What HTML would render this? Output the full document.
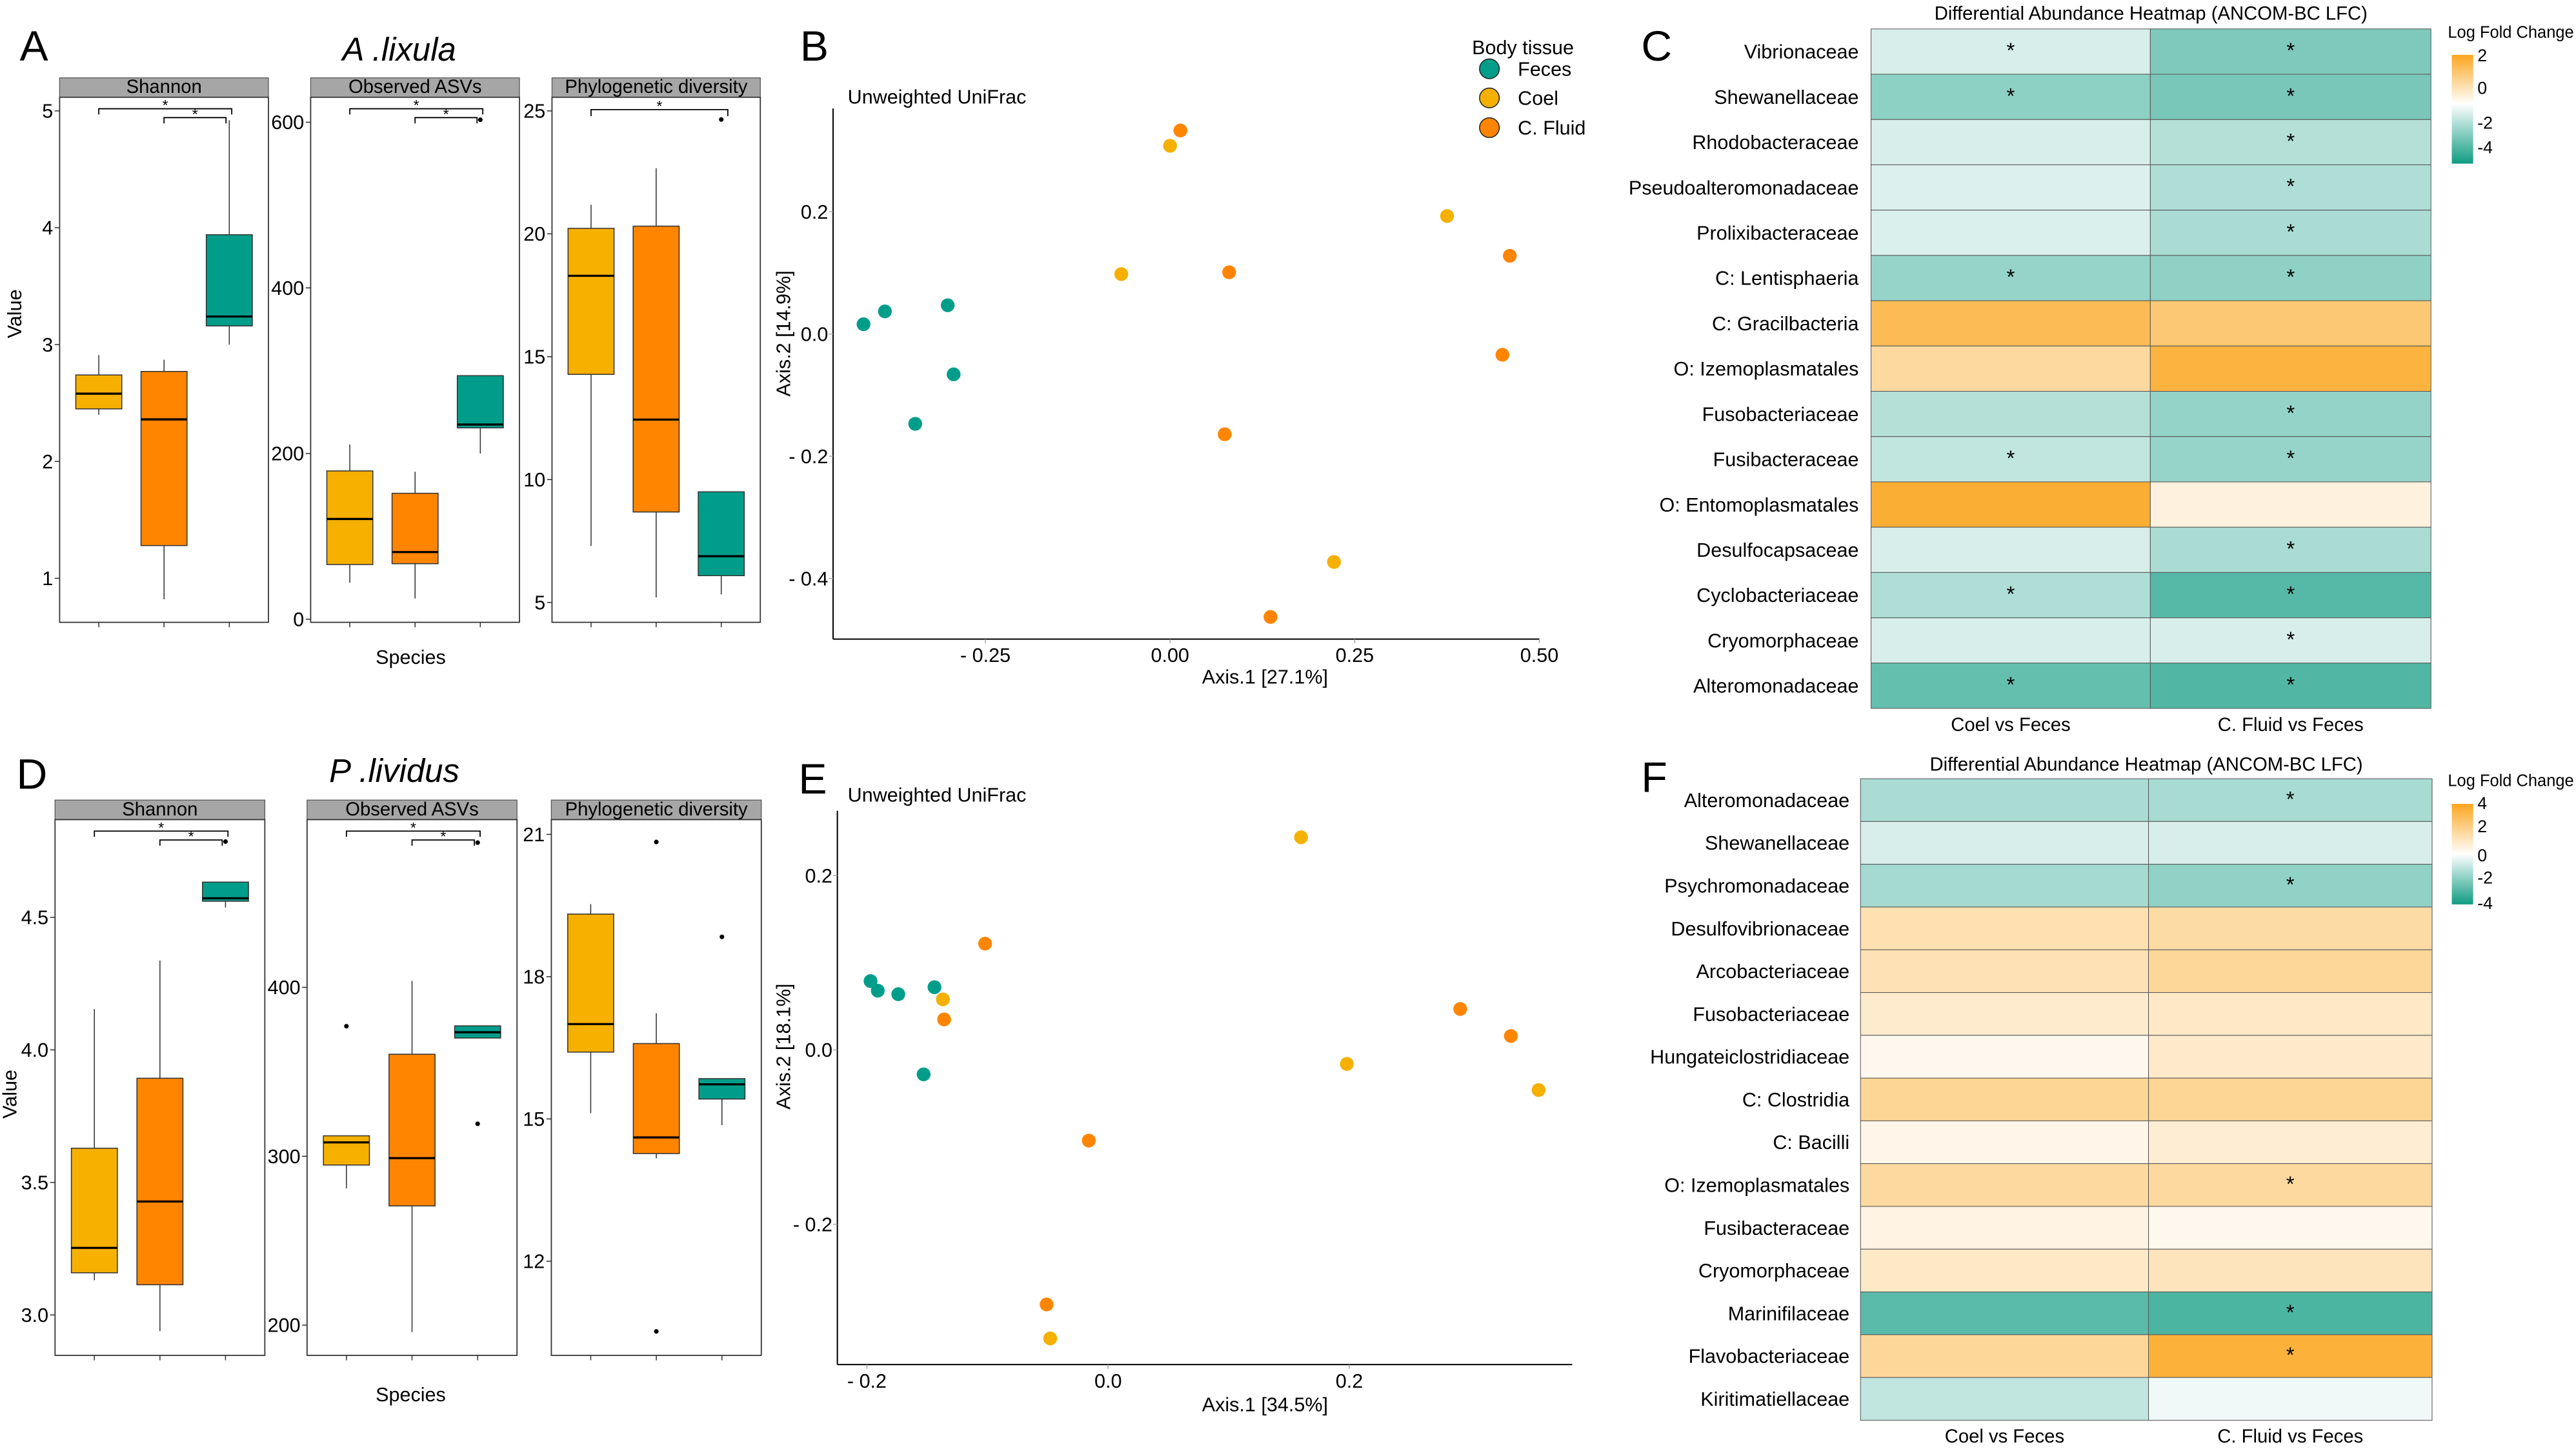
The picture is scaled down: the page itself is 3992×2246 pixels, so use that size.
<!DOCTYPE html>
<html><head><meta charset="utf-8">
<style>
html,body{margin:0;padding:0;background:#fff;}
svg{display:block;}
text{font-family:"Liberation Sans",sans-serif;}
</style></head>
<body>
<svg id="fig" xmlns="http://www.w3.org/2000/svg" width="3992" height="2246" viewBox="0 0 1568 882" preserveAspectRatio="none">
<rect x="0" y="0" width="1568" height="882" fill="#fff"/>
<g id="root"></g>
</svg>
<script>
// ---------- DATA ----------
const groupNames = ['Coel','C. Fluid','Feces'];
const groupColors = ['#F5B000','#FF8500','#009E8A'];
// box stats: [lowerWhisker, q1, median, q3, upperWhisker] per group (Coel, C. Fluid, Feces)
const aShannonStats = [[2.40,2.45,2.58,2.74,2.91],[0.82,1.28,2.36,2.77,2.87],[3.00,3.16,3.24,3.94,4.92]];
const aShannonOut = [[],[],[]];
const aAsvStats = [[44,66,121,179,211],[25,67,81,152,178],[200,231,235,294,294]];
const aAsvOut = [[],[],[603]];
const aPdStats = [[7.3,14.28,18.29,20.22,21.18],[5.2,8.68,12.44,20.31,22.67],[5.33,6.09,6.88,9.5,9.5]];
const aPdOut = [[],[],[24.65]];
const dShannonStats = [[3.131,3.159,3.253,3.629,4.154],[2.939,3.114,3.428,3.893,4.337],[4.537,4.561,4.572,4.633,4.633]];
const dShannonOut = [[],[],[4.786]];
const dAsvStats = [[281,294.8,308.2,312.1,312.1],[195.9,270.6,298.9,360.4,403.8],[370,370,373.4,377.2,377.2]];
const dAsvOut = [[377],[],[319.2,485.7]];
const dPdStats = [[15.12,16.41,17.0,19.32,19.53],[14.17,14.27,14.61,16.59,17.23],[14.87,15.42,15.73,15.85,15.85]];
const dPdOut = [[],[20.84,10.52],[18.84]];
const aShannonTicks = [1,2,3,4,5];
const aAsvTicks = [0,200,400,600];
const aPdTicks = [5,10,15,20,25];
const dShannonTicks = [3.0,3.5,4.0,4.5];
const dAsvTicks = [200,300,400];
const dPdTicks = [12,15,18,21];

// PCoA B
const bFecesX = [-0.415,-0.386,-0.301,-0.293,-0.345];
const bFecesY = [0.016,0.037,0.047,-0.066,-0.147];
const bCoelX = [0.000,-0.066,0.375,0.222];
const bCoelY = [0.308,0.098,0.193,-0.373];
const bFluidX = [0.014,0.080,0.460,0.450,0.074,0.136];
const bFluidY = [0.333,0.101,0.128,-0.034,-0.164,-0.463];
const bXTicks = [-0.25,0.00,0.25,0.50];
const bXTickLabels = ['- 0.25','0.00','0.25','0.50'];
const bYTicks = [0.2,0.0,-0.2,-0.4];
const bYTickLabels = ['0.2','0.0','- 0.2','- 0.4'];
// PCoA E
const eFecesX = [-0.197,-0.191,-0.174,-0.144,-0.153];
const eFecesY = [0.079,0.068,0.064,0.072,-0.028];
const eCoelX = [-0.137,0.160,0.198,0.357,-0.048];
const eCoelY = [0.058,0.244,-0.016,-0.046,-0.331];
const eFluidX = [-0.102,-0.136,-0.016,-0.051,0.292,0.334];
const eFluidY = [0.122,0.035,-0.104,-0.292,0.047,0.016];
const eXTicks = [-0.2,0.0,0.2];
const eXTickLabels = ['- 0.2','0.0','0.2'];
const eYTicks = [0.2,0.0,-0.2];
const eYTickLabels = ['0.2','0.0','- 0.2'];

// Heatmap C
const cTaxa = ['Vibrionaceae','Shewanellaceae','Rhodobacteraceae','Pseudoalteromonadaceae','Prolixibacteraceae','C: Lentisphaeria','C: Gracilbacteria','O: Izemoplasmatales','Fusobacteriaceae','Fusibacteraceae','O: Entomoplasmatales','Desulfocapsaceae','Cyclobacteriaceae','Cryomorphaceae','Alteromonadaceae'];
const cCoel = [-0.8,-2.3,-0.8,-0.7,-0.75,-2.1,1.6,0.9,-1.5,-1.25,1.9,-0.8,-1.6,-0.8,-3.1];
const cFluid = [-2.6,-2.7,-1.5,-1.6,-1.7,-2.25,1.3,1.8,-2.15,-2.1,0.3,-1.7,-3.4,-0.8,-3.5];
const cCoelSig = [1,1,0,0,0,1,0,0,0,1,0,0,1,0,1];
const cFluidSig = [1,1,1,1,1,1,0,0,1,1,0,1,1,1,1];
const cLegendTicks = ['2','0','-2','-4'];
// Heatmap F
const fTaxa = ['Alteromonadaceae','Shewanellaceae','Psychromonadaceae','Desulfovibrionaceae','Arcobacteriaceae','Fusobacteriaceae','Hungateiclostridiaceae','C: Clostridia','C: Bacilli','O: Izemoplasmatales','Fusibacteraceae','Cryomorphaceae','Marinifilaceae','Flavobacteriaceae','Kiritimatiellaceae'];
const fCoel = [-1.7,-0.8,-1.8,1.4,1.3,0.9,0.3,1.9,0.4,1.7,0.5,1.0,-3.3,1.8,-1.25];
const fFluid = [-1.75,-0.8,-2.2,1.6,1.8,1.0,0.95,1.9,0.8,1.7,0.3,1.2,-3.6,3.5,-0.3];
const fCoelSig = [0,0,0,0,0,0,0,0,0,0,0,0,0,0,0];
const fFluidSig = [1,0,1,0,0,0,0,0,0,1,0,0,1,1,0];
const fLegendTicks = ['4','2','0','-2','-4'];
const heatCols = ['Coel vs Feces','C. Fluid vs Feces'];

// ---------- HELPERS ----------
const NS='http://www.w3.org/2000/svg';
const root=document.getElementById('root');
function mk(tag,attrs,parent,txt){
  const e=document.createElementNS(NS,tag);
  for(const k in attrs) e.setAttribute(k,attrs[k]);
  if(txt!==undefined) e.textContent=txt;
  (parent||root).appendChild(e);
  return e;
}
function txt(x,y,s,size,anchor,parent,extra){
  const a={x:x,y:y,'font-size':size,'text-anchor':anchor||'start',fill:'#000'};
  if(extra) for(const k in extra) a[k]=extra[k];
  return mk('text',a,parent,s);
}

// ---------- BOX PANELS ----------
function boxPanelCore(cfg){
  const g=mk('g',{});
  
  
  const {x0,x1,top,bottom,stripTop}=cfg;
  const ys=v=>cfg.py0+(v-cfg.v0)*(cfg.py1-cfg.py0)/(cfg.v1-cfg.v0);
  const xs=i=>x0+(x1-x0)*(0.6+i)/3.2;
  const strip=mk('rect',{x:x0,y:stripTop,width:x1-x0,height:top-stripTop,fill:'#a6a6a6',stroke:'#555','stroke-width':0.5},g);
  
  
  const st=txt((x0+x1)/2,top-2.6,cfg.title,11.5,'middle',g);
  
  
  mk('rect',{x:x0,y:top,width:x1-x0,height:bottom-top,fill:'#fff',stroke:'#333','stroke-width':0.7},g);
  cfg.ticks.forEach(t=>{
    const y=ys(t);
    mk('line',{x1:x0-3,x2:x0,y1:y,y2:y,stroke:'#333','stroke-width':0.6},g);
    const lbl=txt(x0-4,y+4.2,cfg.tickFmt?cfg.tickFmt(t):String(t),12,'end',g);
    
    
  });
  const bw=28;
  cfg.stats.forEach((s,i)=>{
    const cx=xs(i);
    mk('line',{x1:cx,x2:cx,y1:bottom,y2:bottom+3,stroke:'#333','stroke-width':0.6},g);
    mk('line',{x1:cx,x2:cx,y1:ys(s[0]),y2:ys(s[1]),stroke:'#333','stroke-width':0.6},g);
    mk('line',{x1:cx,x2:cx,y1:ys(s[3]),y2:ys(s[4]),stroke:'#333','stroke-width':0.6},g);
    const b=mk('rect',{x:cx-bw/2,y:ys(s[3]),width:bw,height:ys(s[1])-ys(s[3]),fill:groupColors[i],stroke:'#333','stroke-width':0.6},g);
    
    
    mk('line',{x1:cx-bw/2,x2:cx+bw/2,y1:ys(s[2]),y2:ys(s[2]),stroke:'#000','stroke-width':1.3},g);
    cfg.out[i].forEach(o=>{
      const p=mk('circle',{cx:cx,cy:ys(o),r:1.4,fill:'#000'},g);
      
      
    });
  });
  return {g,xs};
}
function bracket(g,xa,xb,y,len){
  mk('path',{d:`M${xa},${y+len}V${y}H${xb}V${y+len}`,fill:'none',stroke:'#000','stroke-width':0.7},g);
  const s=txt((xa+xb)/2,y+1,'*',9,'middle',g);
  
  
}
function boxPanel(cfg){
  const {g,xs}=boxPanelCore(cfg);
  bracket(g,xs(0),xs(2)+1.5,cfg.top+7,3.5);
  bracket(g,xs(1),xs(2)-2,cfg.top+12.4,3.5);
}
function boxPanelNoBr(cfg){
  const {g,xs}=boxPanelCore(cfg);
  if(cfg.bracket) bracket(g,xs(0),xs(2)+4,cfg.top+7.5,4);
}
const f1=v=>v.toFixed(1);
// Row A
boxPanel({name:'a-shannon-panel',title:'Shannon',x0:36.3,x1:163.4,stripTop:47.4,top:59.2,bottom:378.8,v0:1,py0:352,v1:5,py1:67.5,ticks:aShannonTicks,stats:aShannonStats,out:aShannonOut});
boxPanel({name:'a-observed-asvs-panel',title:'Observed ASVs',x0:189.1,x1:316.2,stripTop:47.4,top:59.2,bottom:378.8,v0:0,py0:376.9,v1:600,py1:74.4,ticks:aAsvTicks,stats:aAsvStats,out:aAsvOut});
boxPanelNoBr({name:'a-phylogenetic-diversity-panel',title:'Phylogenetic diversity',x0:336,x1:462.8,stripTop:47.4,top:59.2,bottom:378.8,v0:5,py0:366.7,v1:25,py1:67.5,ticks:aPdTicks,stats:aPdStats,out:aPdOut,bracket:true});
// Row D
boxPanel({name:'d-shannon-panel',title:'Shannon',x0:33.5,x1:161.2,stripTop:487,top:498.9,bottom:825,v0:3.0,py0:800.4,v1:4.5,py1:558.4,ticks:dShannonTicks,stats:dShannonStats,out:dShannonOut,tickFmt:f1});
boxPanel({name:'d-observed-asvs-panel',title:'Observed ASVs',x0:186.9,x1:314.7,stripTop:487,top:498.9,bottom:825,v0:200,py0:806.6,v1:400,py1:601,ticks:dAsvTicks,stats:dAsvStats,out:dAsvOut});
boxPanelNoBr({name:'d-phylogenetic-diversity-panel',title:'Phylogenetic diversity',x0:335.6,x1:463.4,stripTop:487,top:498.9,bottom:825,v0:12,py0:767.7,v1:21,py1:507.9,ticks:dPdTicks,stats:dPdStats,out:dPdOut,bracket:false});

function label(x,y,s,size,name,extra,anchor){
  const t=txt(x,y,s,size,anchor||'start',root,extra);
  
  
  return t;
}
label(12,37,'A',26,'panel-label-a');
label(243,37,'A .lixula',20,'species-title-a',{'font-style':'italic'},'middle');
label(13,191,'Value',12,'y-axis-title-a',{transform:'rotate(-90 13 191)'},'middle');
label(250,404,'Species',12,'x-axis-title-a',{},'middle');
label(10,480,'D',26,'panel-label-d');
label(240,476,'P .lividus',20,'species-title-d',{'font-style':'italic'},'middle');
label(10,666,'Value',12,'y-axis-title-d',{transform:'rotate(-90 10 666)'},'middle');
label(250,853,'Species',12,'x-axis-title-d',{},'middle');

// ---------- PCoA ----------
function pcoa(cfg){
  const g=mk('g',{});
  
  
  const xs=v=>cfg.xp0+(v-cfg.xv0)*(cfg.xp1-cfg.xp0)/(cfg.xv1-cfg.xv0);
  const ys=v=>cfg.yp0+(v-cfg.yv0)*(cfg.yp1-cfg.yp0)/(cfg.yv1-cfg.yv0);
  mk('line',{x1:cfg.ax,x2:cfg.ax,y1:cfg.atop,y2:cfg.abot,stroke:'#000','stroke-width':0.8},g);
  mk('line',{x1:cfg.ax,x2:cfg.aright,y1:cfg.abot,y2:cfg.abot,stroke:'#000','stroke-width':0.8},g);
  cfg.xt.forEach((t,i)=>{
    const x=xs(t);
    mk('line',{x1:x,x2:x,y1:cfg.abot,y2:cfg.abot+2.5,stroke:'#999','stroke-width':0.5},g);
    const l=txt(x,cfg.abot+14,cfg.xtl[i],12,'middle',g);
    
    
  });
  cfg.yt.forEach((t,i)=>{
    const y=ys(t);
    mk('line',{x1:cfg.ax-2.5,x2:cfg.ax,y1:y,y2:y,stroke:'#999','stroke-width':0.5},g);
    const l=txt(cfg.ax-3,y+4.2,cfg.ytl[i],12,'end',g);
    
    
  });
  const series=[[cfg.fx,cfg.fy,2,'feces'],[cfg.cx,cfg.cy,0,'coel'],[cfg.ux,cfg.uy,1,'c-fluid']];
  series.forEach(s=>{
    s[0].forEach((v,i)=>{
      const c=mk('circle',{cx:xs(v),cy:ys(s[1][i]),r:4.2,fill:groupColors[s[2]]},g);
      
      
    });
  });
}
pcoa({name:'b-pcoa-scatter',xp0:712.2,xv0:0,xp1:824.6,xv1:0.25,yp0:203.3,yv0:0,yp1:128.9,yv1:0.2,ax:507.1,atop:66,abot:389,aright:937,
  xt:bXTicks,xtl:bXTickLabels,yt:bYTicks,ytl:bYTickLabels,fx:bFecesX,fy:bFecesY,cx:bCoelX,cy:bCoelY,ux:bFluidX,uy:bFluidY});
pcoa({name:'e-pcoa-scatter',xp0:674.5,xv0:0,xp1:821.3,xv1:0.2,yp0:639.1,yv0:0,yp1:533,yv1:0.2,ax:509.7,atop:493.5,abot:830.6,aright:957,
  xt:eXTicks,xtl:eXTickLabels,yt:eYTicks,ytl:eYTickLabels,fx:eFecesX,fy:eFecesY,cx:eCoelX,cy:eCoelY,ux:eFluidX,uy:eFluidY});
label(487,37,'B',26,'panel-label-b');
label(516,63,'Unweighted UniFrac',12,'b-plot-subtitle');
label(770,416,'Axis.1 [27.1%]',12,'b-x-axis-title',{},'middle');
label(481,203,'Axis.2 [14.9%]',12,'b-y-axis-title',{transform:'rotate(-90 481 203)'},'middle');
label(486,483,'E',26,'panel-label-e');
label(516,488,'Unweighted UniFrac',12,'e-plot-subtitle');
label(770,859,'Axis.1 [34.5%]',12,'e-x-axis-title',{},'middle');
label(481,637,'Axis.2 [18.1%]',12,'e-y-axis-title',{transform:'rotate(-90 481 637)'},'middle');
// legend
const lg=mk('g',{});


const lt=txt(896,33,'Body tissue',12,'start',lg);


[[2,'Feces',41.9],[0,'Coel',59.6],[1,'C. Fluid',77.7]].forEach(e=>{
  const c=mk('circle',{cx:906.6,cy:e[2],r:6,fill:groupColors[e[0]],stroke:'#222','stroke-width':0.6},lg);
  
  
  const t=txt(923.9,e[2]+4.2,e[1],12,'start',lg);
  
  
});

// ---------- HEATMAPS ----------
function mix(a,b,t){
  const pa=[parseInt(a.substr(1,2),16),parseInt(a.substr(3,2),16),parseInt(a.substr(5,2),16)];
  const pb=[parseInt(b.substr(1,2),16),parseInt(b.substr(3,2),16),parseInt(b.substr(5,2),16)];
  return 'rgb('+pa.map((v,i)=>Math.round(v+(pb[i]-v)*t)).join(',')+')';
}
function heat(cfg){
  const g=mk('g',{});
  
  
  const n=cfg.taxa.length, rh=(cfg.y1-cfg.y0)/n;
  const colX=[cfg.x0,cfg.xm,cfg.x1];
  const col=v=>v<0?mix('#ffffff','#1aa088',Math.min(1,-v/cfg.lo)):mix('#ffffff','#fba61f',Math.min(1,v/cfg.hi));
  const tl=txt((cfg.x0+cfg.x1)/2,cfg.titleY,'Differential Abundance Heatmap (ANCOM-BC LFC)',11.5,'middle',g);
  
  
  [cfg.coel,cfg.fluid].forEach((vals,ci)=>{
    const sig=ci===0?cfg.coelSig:cfg.fluidSig;
    vals.forEach((v,r)=>{
      const y=cfg.y0+r*rh;
      const c=mk('rect',{x:colX[ci],y:y,width:colX[ci+1]-colX[ci],height:rh,fill:col(v),stroke:'#555','stroke-width':0.4},g);
      
      
      if(sig[r]){
        const s=txt((colX[ci]+colX[ci+1])/2,y+rh/2+3.8,'*',13,'middle',g);
        
        
      }
    });
  });
  cfg.taxa.forEach((t,r)=>{
    const l=txt(cfg.labelX,cfg.y0+r*rh+rh/2+4.2,t,12,'end',g);
    
    
  });
  heatCols.forEach((c,i)=>{
    const l=txt((colX[i]+colX[i+1])/2,cfg.colLabelY,c,11.5,'middle',g);
    
    
  });
  const lt=txt(1490,cfg.legTitleY,'Log Fold Change',10,'start',g);
  
  
  const gid='grad'+cfg.name;
  const defs=mk('defs',{},g);
  const lgd=mk('linearGradient',{id:gid,x1:0,y1:0,x2:0,y2:1},defs);
  mk('stop',{offset:'0','stop-color':'#fba61f'},lgd);
  mk('stop',{offset:cfg.whiteAt,'stop-color':'#ffffff'},lgd);
  mk('stop',{offset:'1','stop-color':'#0f9c82'},lgd);
  const bar=mk('rect',{x:1492.4,y:cfg.barTop,width:13,height:cfg.barBot-cfg.barTop,fill:'url(#'+gid+')'},g);
  
  
  cfg.legTicks.forEach((t,i)=>{
    const l=txt(1508,cfg.legTickY[i]+4,t,10.5,'start',g);
    
    
  });
}
heat({name:'c-heatmap',taxa:cTaxa,coel:cCoel,fluid:cFluid,coelSig:cCoelSig,fluidSig:cFluidSig,x0:1138.9,xm:1308.9,x1:1479.7,y0:17.6,y1:431.2,
  lo:4.6,hi:2.1,labelX:1131.4,titleY:12,colLabelY:445,legTitleY:23,barTop:33.4,barBot:99.6,whiteAt:'0.45',legTicks:cLegendTicks,legTickY:[33.4,53.2,74.4,89.2]});
heat({name:'f-heatmap',taxa:fTaxa,coel:fCoel,fluid:fFluid,coelSig:fCoelSig,fluidSig:fFluidSig,x0:1132.5,xm:1307.8,x1:1480.4,y0:474,y1:864.5,
  lo:4.6,hi:4.0,labelX:1125.8,titleY:469,colLabelY:878,legTitleY:478.5,barTop:489.3,barBot:550.5,whiteAt:'0.5',legTicks:fLegendTicks,legTickY:[488.4,502.5,520.3,533.8,549.4]});
label(999,37,'C',26,'panel-label-c');
label(999,482,'F',26,'panel-label-f');
</script>
</body></html>
